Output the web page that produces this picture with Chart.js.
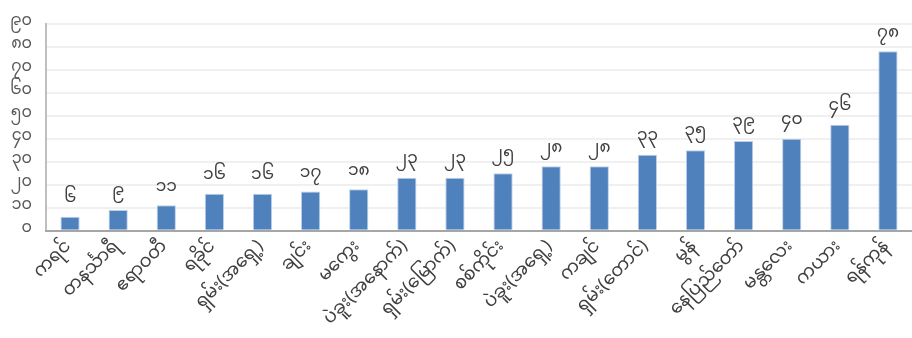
<!DOCTYPE html>
<html>
<head>
<meta charset="utf-8">
<script src="https://cdn.jsdelivr.net/npm/chart.js@4"></script>
<style>
html,body{margin:0;padding:0;background:#fff;}
#wrap{width:912px;height:338px;}
</style>
</head>
<body>
<div id="wrap"><canvas id="c" width="912" height="338"></canvas></div>
<script>
const categories = ["ကရင်","တနင်္သာရီ","ဧရာဝတီ","ရခိုင်","ရှမ်း(အရှေ့)","ချင်း","မကွေး","ပဲခူး(အနောက်)","ရှမ်း(မြောက်)","စစ်ကိုင်း","ပဲခူး(အရှေ့)","ကချင်","ရှမ်း(တောင်)","မွန်","နေပြည်တော်","မန္တလေး","ကယား","ရန်ကုန်"];
const values = [6, 9, 11, 16, 16, 17, 18, 23, 23, 25, 28, 28, 33, 35, 39, 40, 46, 78];
const yMin = 0, yMax = 90, yStep = 10;

const MY_DIGITS = "၀၁၂၃၄၅၆၇၈၉";
function toMy(n){ return String(n).replace(/[0-9]/g, d => MY_DIGITS[+d]); }
const FONT = "'Noto Sans Myanmar','Padauk','Myanmar Text','Noto Sans',sans-serif";

const labelPlugin = {
  id: 'barLabels',
  afterDatasetsDraw(chart){
    const ctx = chart.ctx;
    const meta = chart.getDatasetMeta(0);
    ctx.save();
    ctx.fillStyle = '#404040';
    ctx.font = "17px " + FONT;
    ctx.textAlign = 'center';
    ctx.textBaseline = 'bottom';
    meta.data.forEach((bar, i) => {
      ctx.fillText(toMy(values[i]), bar.x, bar.y - 8);
    });
    ctx.restore();
  }
};

new Chart(document.getElementById('c'), {
  type: 'bar',
  data: {
    labels: categories,
    datasets: [{
      data: values,
      backgroundColor: '#4F81BD',
      borderColor: '#BCD0E8',
      borderWidth: {top:1,left:1,right:1,bottom:0},
      barPercentage: 0.4,
      categoryPercentage: 1.0
    }]
  },
  options: {
    responsive: false,
    animation: false,
    layout: { padding: { top: 0, right: 0, left: 0, bottom: 0 } },
    plugins: { legend: { display: false }, tooltip: { enabled: false } },
    scales: {
      y: {
        min: yMin, max: yMax,
        ticks: { stepSize: yStep, callback: v => toMy(v), color: '#595959', font: { family: FONT, size: 16 }, padding: 14 },
        grid: { color: '#F0F0F0', lineWidth: 2, drawTicks: false },
        border: { color: '#BFBFBF', width: 2 },
        afterFit: s => { s.width = 46; }
      },
      x: {
        ticks: { minRotation: 45, maxRotation: 45, color: '#404040', font: { family: FONT, size: 18 }, padding: 7, autoSkip: false },
        grid: { display: false, drawTicks: false },
        border: { color: '#A6A6A6', width: 2 }
      }
    }
  },
  plugins: [labelPlugin]
});
</script>
</body>
</html>
